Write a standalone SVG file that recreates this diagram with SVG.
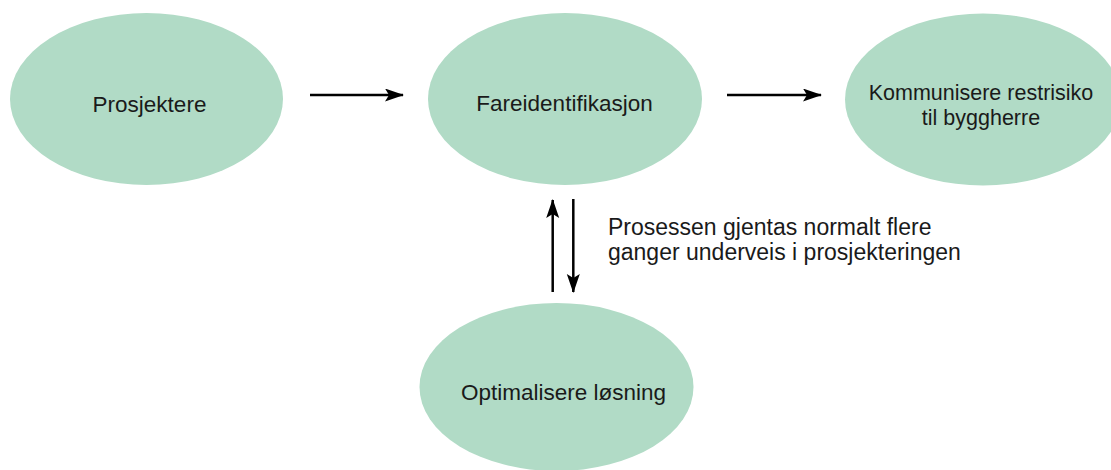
<svg xmlns="http://www.w3.org/2000/svg" width="1111" height="470" viewBox="0 0 1111 470">
<style>
.node{fill:#b1dbc6;}
.lbl{font-family:"Liberation Sans",Arial,sans-serif;font-size:22.5px;fill:#1a1a1a;text-anchor:middle;}
.note{font-family:"Liberation Sans",Arial,sans-serif;font-size:23px;fill:#1a1a1a;}
.conn{stroke:#000;stroke-width:2.5;fill:none;marker-end:url(#ah);}
</style>
<defs>
<marker id="ah" markerUnits="userSpaceOnUse" markerWidth="20" markerHeight="14" refX="18" refY="6.5" orient="auto">
<path d="M0,0 L19,6.5 L0,13 L4,6.5 Z" fill="#000"/>
</marker>
</defs>
<rect width="1111" height="470" fill="#fff"/>
<g id="node-prosjektere">
<ellipse class="node" cx="146.5" cy="99" rx="136.5" ry="86"/>
<text class="lbl" x="149.5" y="111.5">Prosjektere</text>
</g>
<g id="node-fareidentifikasjon">
<ellipse class="node" cx="565" cy="99" rx="137" ry="86"/>
<text class="lbl" x="564.5" y="111">Fareidentifikasjon</text>
</g>
<g id="node-kommunisere">
<ellipse class="node" cx="983" cy="99.5" rx="138" ry="86"/>
<text class="lbl" x="981" y="100" style="font-size:21.5px">Kommunisere restrisiko</text>
<text class="lbl" x="981" y="125" style="font-size:21.5px">til byggherre</text>
</g>
<g id="node-optimalisere">
<ellipse class="node" cx="556.5" cy="387" rx="137" ry="84"/>
<text class="lbl" x="563.5" y="400">Optimalisere løsning</text>
</g>
<g id="connectors">
<line class="conn" x1="310" y1="95" x2="403" y2="95"/>
<line class="conn" x1="727" y1="95" x2="821" y2="95"/>
<line class="conn" x1="552.7" y1="292" x2="552.7" y2="200"/>
<line class="conn" x1="573.3" y1="199" x2="573.3" y2="292"/>
</g>
<g id="note">
<text class="note" x="608" y="235">Prosessen gjentas normalt flere</text>
<text class="note" x="608" y="260">ganger underveis i prosjekteringen</text>
</g>
</svg>
